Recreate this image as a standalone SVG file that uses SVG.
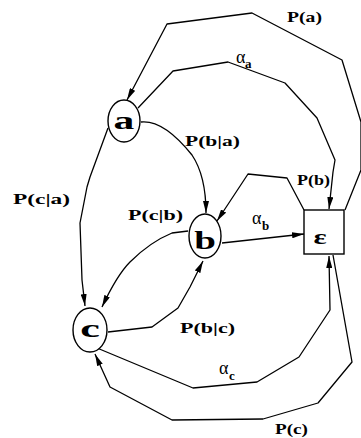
<svg xmlns="http://www.w3.org/2000/svg" width="361" height="438" viewBox="0 0 361 438">
<style>
.e{fill:none;stroke:#000;stroke-width:1.3;stroke-linejoin:round;marker-end:url(#ah)}
.n{fill:#fff;stroke:#000;stroke-width:1.4}
.lab{font-family:"Liberation Serif",serif;font-weight:bold;font-size:14px;fill:#000}
.al{font-family:"Liberation Serif",serif;font-size:18px;fill:#000}
.sub{font-family:"Liberation Serif",serif;font-weight:bold;font-size:13px;fill:#000}
.nl{font-family:"Liberation Serif",serif;font-weight:bold;font-size:26px;fill:#000}
</style>
<defs>
<marker id="ah" viewBox="0 0 12 6" refX="12" refY="3" markerWidth="12" markerHeight="6" markerUnits="userSpaceOnUse" orient="auto">
<path d="M0,0 L12,3 L0,6 z" fill="#000"/>
</marker>
</defs>
<rect width="361" height="438" fill="#fff"/>
<g id="connectors">
<path class="e" d="M345,210 L361,170 L361,122 L342,60 L252,13 L167,24 L127,100"/>
<path class="e" d="M138,108 L173,71 L228,62 L285,83 L317,118 L335,160 L333,172 L329,209"/>
<path class="e" d="M304,210 L287,178 L248,174 L217,221"/>
<path class="e" d="M141,122 C160,120 180,140 192,155 C202,170 206,190 206,213"/>
<path class="e" d="M108,128 L90,177 L87,187 L80,223 L82,280 L85,306"/>
<path class="e" d="M188,231 L172,233 C155,240 140,252 130,262 C120,272 110,290 102,307"/>
<path class="e" d="M108,332 L152,327 L178,308 L190,287 L203,261"/>
<path class="e" d="M222,243 L304,234"/>
<path class="e" d="M97,348 L193,388 L257,382 L299,357 L330,310 L329,256"/>
<path class="e" d="M333,255 L352,362 L318,403 L263,419 L172,420 L110,387 L95,354"/>
</g>
<g id="labels">
<text class="lab" x="287" y="22" textLength="35" lengthAdjust="spacingAndGlyphs">P(a)</text>
<text class="al" x="236" y="63">α</text><text class="sub" x="245" y="68">a</text>
<text class="lab" x="185" y="146" textLength="55" lengthAdjust="spacingAndGlyphs">P(b|a)</text>
<text class="lab" x="13" y="204" textLength="57" lengthAdjust="spacingAndGlyphs">P(c|a)</text>
<text class="lab" x="128" y="220" textLength="55" lengthAdjust="spacingAndGlyphs">P(c|b)</text>
<text class="lab" x="297" y="185" textLength="33" lengthAdjust="spacingAndGlyphs">P(b)</text>
<text class="al" x="252" y="224">α</text><text class="sub" x="262" y="230">b</text>
<text class="lab" x="180" y="333" textLength="55" lengthAdjust="spacingAndGlyphs">P(b|c)</text>
<text class="al" x="219" y="374">α</text><text class="sub" x="229" y="380">c</text>
<text class="lab" x="275" y="434" textLength="33" lengthAdjust="spacingAndGlyphs">P(c)</text>
</g>
<g id="a">
<ellipse class="n" cx="124" cy="121" rx="16" ry="21"/>
<text class="nl" x="124" y="129" text-anchor="middle" transform="translate(124 0) scale(1.6 1) translate(-124 0)">a</text>
</g>
<g id="b">
<ellipse class="n" cx="205" cy="236" rx="16" ry="22"/>
<text class="nl" x="205" y="249" text-anchor="middle" transform="translate(205 0) scale(1.5 1) translate(-205 0)">b</text>
</g>
<g id="c">
<ellipse class="n" cx="90" cy="330" rx="17" ry="22"/>
<text class="nl" x="90" y="337" text-anchor="middle" transform="translate(90 0) scale(1.7 1) translate(-90 0)">c</text>
</g>
<g id="eps">
<rect class="n" x="304" y="210" width="40" height="44"/>
<text x="320" y="244" text-anchor="middle" font-family="Liberation Serif,serif" font-weight="bold" font-size="22" transform="translate(320 0) scale(1.4 1) translate(-320 0)">ε</text>
</g>
</svg>
